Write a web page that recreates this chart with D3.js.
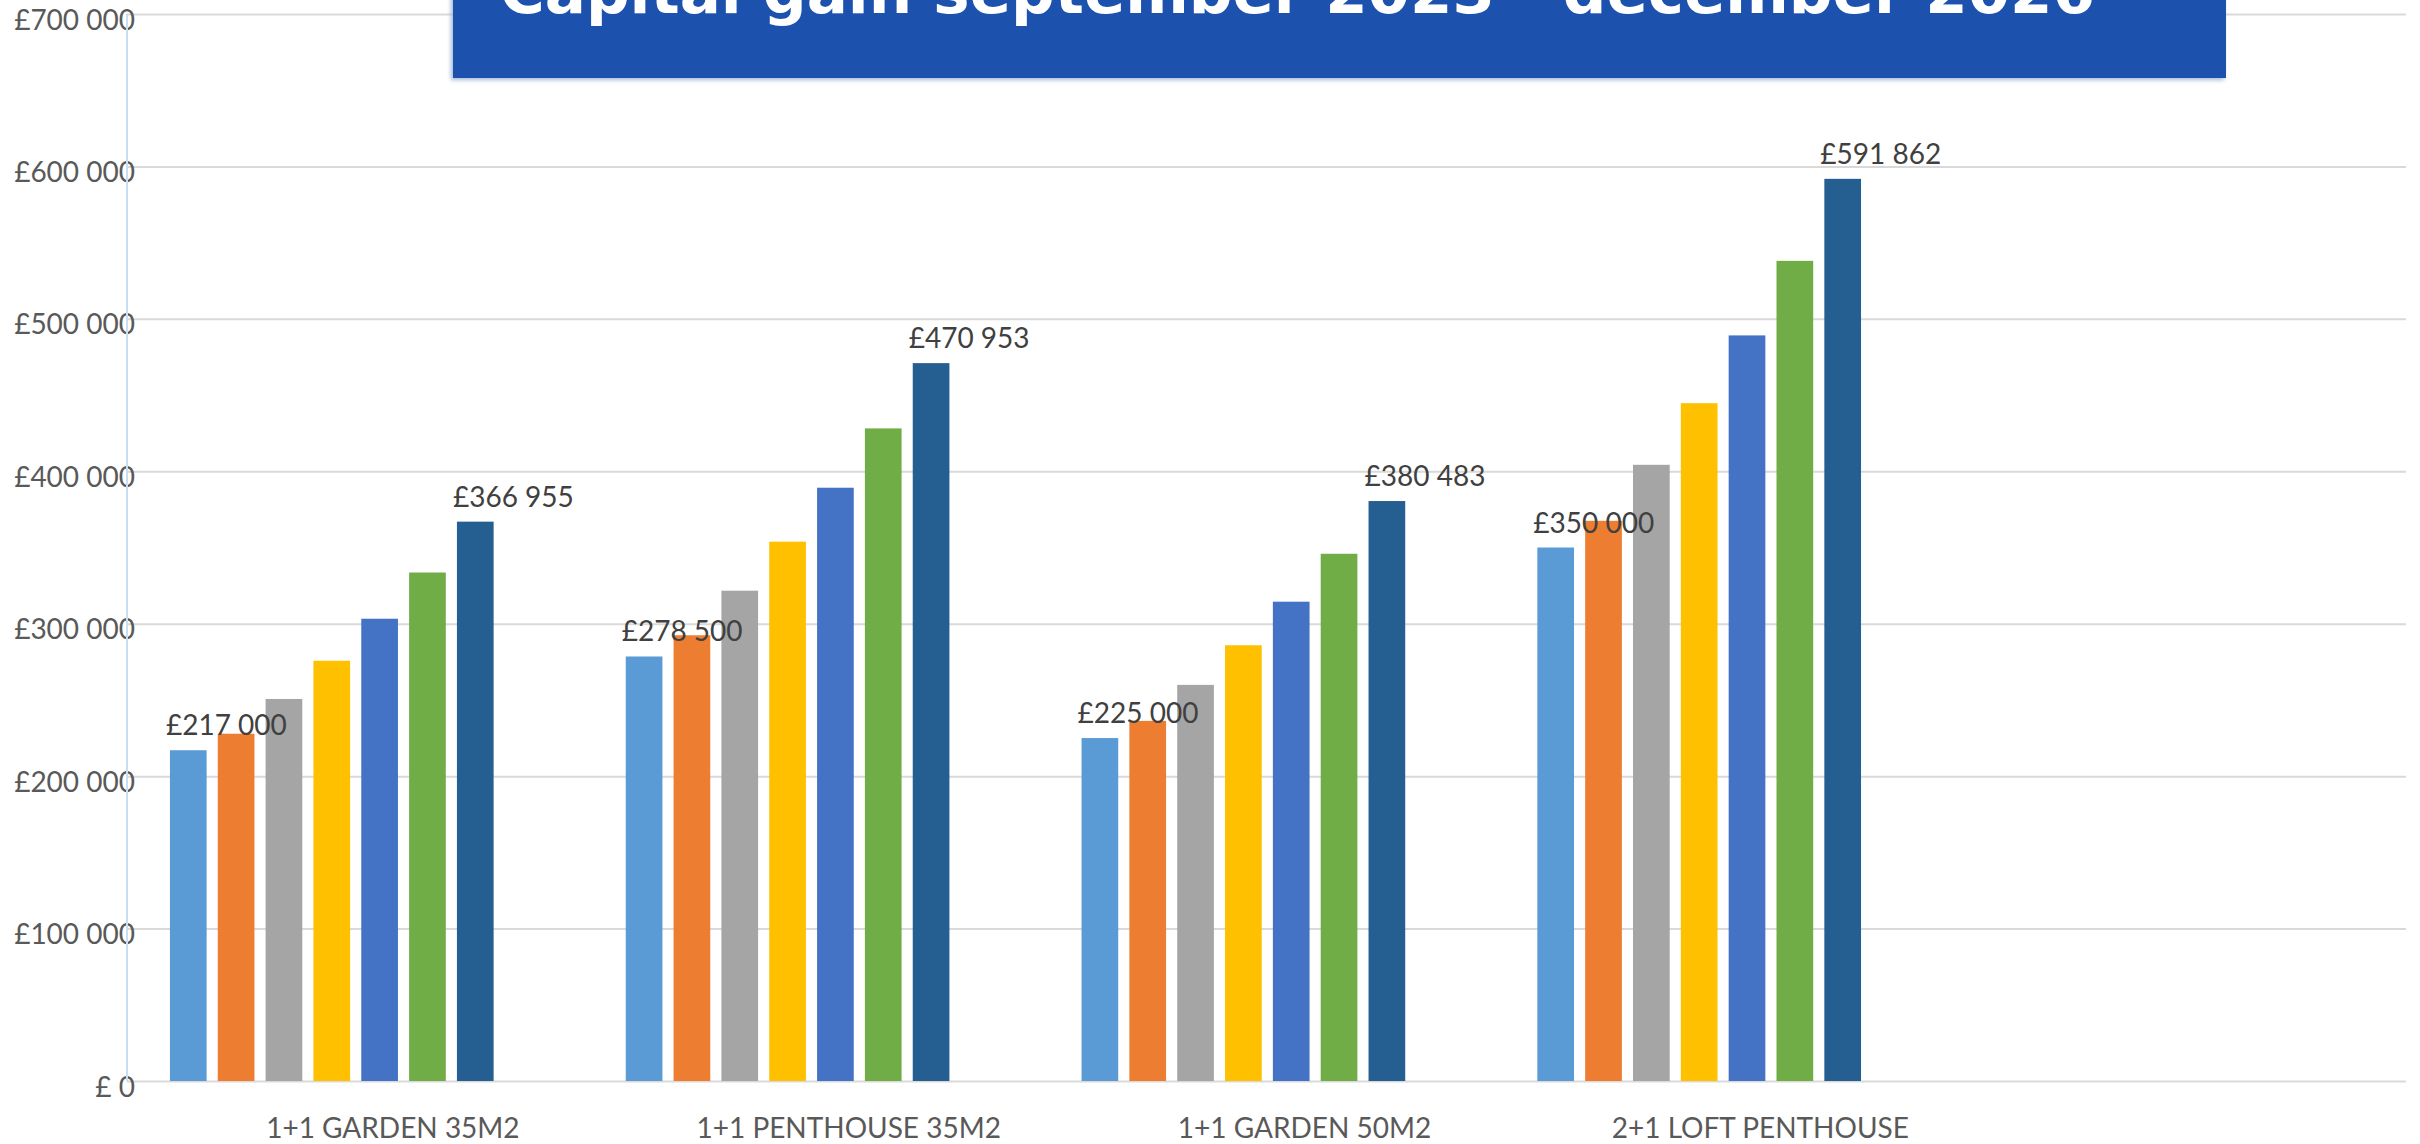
<!DOCTYPE html>
<html>
<head>
<meta charset="utf-8">
<script src="https://cdn.jsdelivr.net/npm/d3@7"></script>
<style>
  body { margin: 0; background: #fff; }
  #chart-area text { font-family: Lato, "Open Sans", sans-serif; }
</style>
</head>
<body>
<div id="chart-area"></div>
<script>
// categories (the last slot is empty in the original chart)
var categories = ["1+1 GARDEN 35M2", "1+1 PENTHOUSE 35M2", "1+1 GARDEN 50M2", "2+1 LOFT PENTHOUSE", ""];
var seriesKeys = ["p1", "p2", "p3", "p4", "p5", "p6", "p7"];

// values
var garden35 = [217000, 227850, 250635, 275699, 303268, 333595, 366955];
var penthouse35 = [278500, 292425, 321668, 353834, 389218, 428139, 470953];
var garden50 = [225000, 236250, 259875, 285863, 314449, 345893, 380483];
var loftPenthouse = [350000, 367500, 404250, 444675, 489143, 538057, 591862];
var groups = [garden35, penthouse35, garden50, loftPenthouse];

var yTickValues = [0, 100000, 200000, 300000, 400000, 500000, 600000, 700000];
var colors = ["#5B9BD5", "#ED7D31", "#A5A5A5", "#FFC000", "#4472C4", "#70AD47", "#255E91"];
var titleText = "Capital gain september 2023 - december 2026";

var width = 2420;
var height = 1144;
var plot = { left: 127, right: 2406, top: 14, bottom: 1081 };

var locale = d3.formatLocale({ decimal: ".", thousands: " ", grouping: [3], currency: ["£", ""] });
var fmt = locale.format("$,.0f");
function money(v) {
  return v === 0 ? "£ 0" : fmt(v);
}

var svg = d3.select("#chart-area")
  .append("svg")
  .attr("width", width)
  .attr("height", height);

var x0 = d3.scaleBand()
  .domain(categories)
  .range([plot.left, plot.right]);

var x1 = d3.scaleBand()
  .domain(seriesKeys)
  .range([0, x0.bandwidth()])
  .paddingInner(0.233)
  .paddingOuter(1.381)
  .align(0.325);

var y = d3.scaleLinear()
  .domain([0, 700000])
  .range([plot.bottom, plot.top]);

var color = d3.scaleOrdinal()
  .domain(seriesKeys)
  .range(colors);

// y axis with gridlines
var yAxisGroup = svg.append("g")
  .attr("class", "y-axis")
  .attr("transform", "translate(" + plot.left + ", 0)")
  .call(d3.axisLeft(y)
    .tickValues(yTickValues)
    .tickSize(-(plot.right - plot.left))
    .tickFormat(money));

yAxisGroup.select(".domain").remove();
yAxisGroup.selectAll("line")
  .attr("stroke", "#D9D9D9")
  .attr("stroke-width", 2);
yAxisGroup.selectAll("text")
  .attr("x", 8)
  .attr("dy", 15)
  .attr("font-size", 28)
  .attr("fill", "#595959");

// thin vertical axis line
svg.append("line")
  .attr("x1", plot.left)
  .attr("x2", plot.left)
  .attr("y1", y(700000))
  .attr("y2", y(0))
  .attr("stroke", "#C9DEF1")
  .attr("stroke-width", 2);

// x axis labels
var xAxisGroup = svg.append("g")
  .attr("class", "x-axis")
  .attr("transform", "translate(0, " + plot.bottom + ")")
  .call(d3.axisBottom(x0).tickSize(0));

xAxisGroup.select(".domain").remove();
xAxisGroup.selectAll("text")
  .attr("y", 57)
  .attr("dy", 0)
  .attr("dx", 38)
  .attr("font-size", 28)
  .attr("fill", "#595959");

// bars
var groupG = svg.selectAll(".cat")
  .data(groups)
  .enter()
  .append("g")
  .attr("class", "cat")
  .attr("transform", function(d, i) {
    return "translate(" + x0(categories[i]) + ", 0)";
  });

groupG.selectAll("rect")
  .data(function(d) {
    return d.map(function(v, j) { return { key: seriesKeys[j], value: v }; });
  })
  .enter()
  .append("rect")
  .attr("x", function(d) { return x1(d.key); })
  .attr("y", function(d) { return y(d.value); })
  .attr("width", x1.bandwidth())
  .attr("height", function(d) { return y(0) - y(d.value); })
  .attr("fill", function(d) { return color(d.key); });

// data labels on first and last bar of each group
groupG.selectAll(".lbl")
  .data(function(d) {
    var last = d.length - 1;
    return [{ key: seriesKeys[0], value: d[0] }, { key: seriesKeys[last], value: d[last] }];
  })
  .enter()
  .append("text")
  .attr("class", "lbl")
  .attr("x", function(d) { return x1(d.key) - 4; })
  .attr("y", function(d) { return y(d.value) - 15; })
  .attr("font-size", 28)
  .attr("fill", "#404040")
  .text(function(d) { return money(d.value); });

// title banner (cut off at the top in the original)
var defs = svg.append("defs");
var shadow = defs.append("filter")
  .attr("id", "shadow")
  .attr("x", "-5%").attr("y", "-20%")
  .attr("width", "110%").attr("height", "150%");
shadow.append("feDropShadow")
  .attr("dx", -2)
  .attr("dy", 2)
  .attr("stdDeviation", 2)
  .attr("flood-color", "#8FA6CF")
  .attr("flood-opacity", 0.8);

svg.append("rect")
  .attr("x", 453)
  .attr("y", -10)
  .attr("width", 1773)
  .attr("height", 88)
  .attr("fill", "#1D51AD")
  .attr("filter", "url(#shadow)");

svg.append("text")
  .attr("x", 500)
  .attr("y", 13)
  .attr("font-size", 61)
  .attr("font-weight", "bold")
  .style("font-family", "'DejaVu Sans', sans-serif")
  .attr("fill", "#fff")
  .text(titleText);
</script>
</body>
</html>
